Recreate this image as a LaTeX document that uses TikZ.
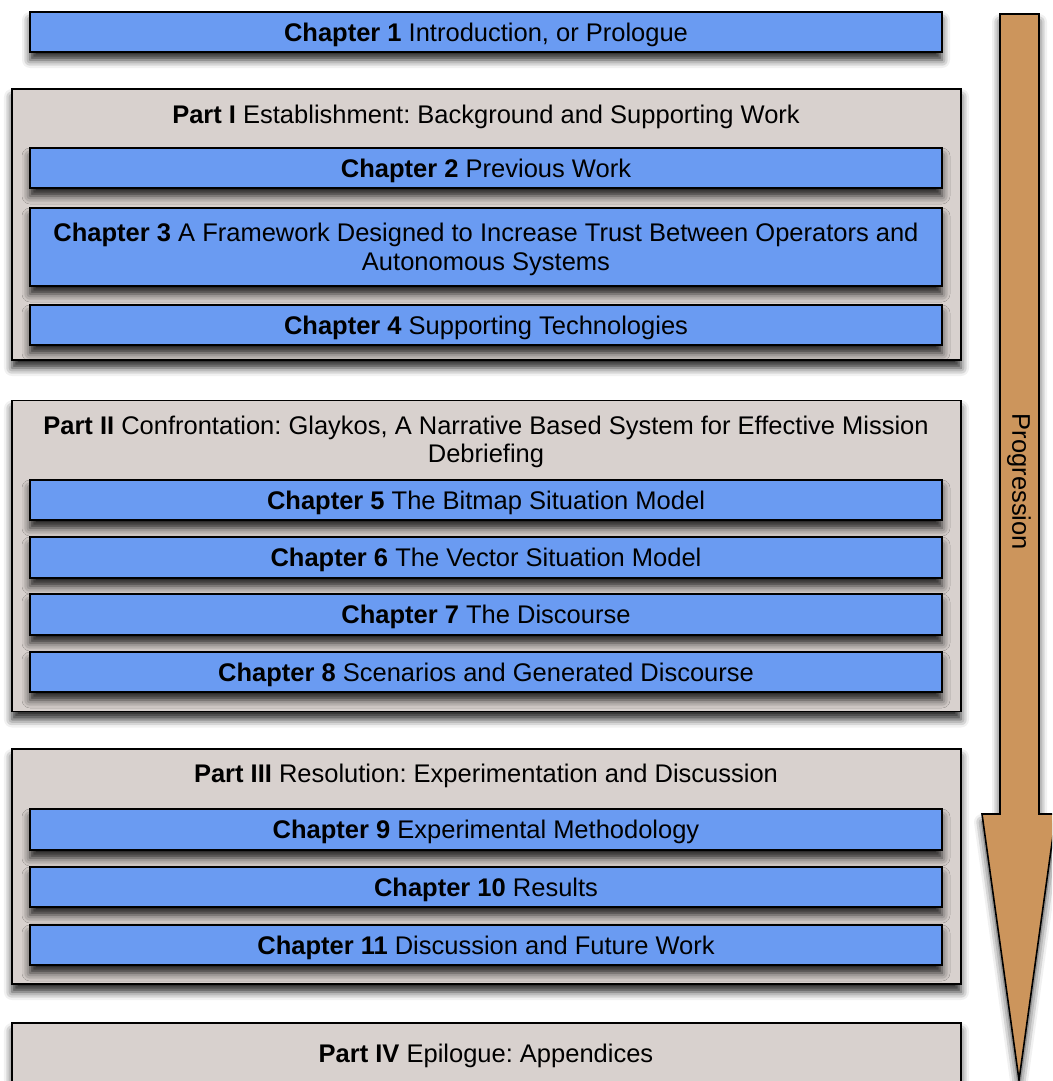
\documentclass[tikz,border=0pt]{standalone}
\usepackage{fontspec}
\setmainfont{Liberation Sans}
\usetikzlibrary{shadows.blur}
\frenchspacing
\definecolor{chapblue}{RGB}{106,155,242}
\definecolor{partgray}{RGB}{216,209,206}
\definecolor{progbrown}{RGB}{204,149,92}
\tikzset{
  dropshadow/.style={blur shadow={shadow xshift=0pt, shadow yshift=-8pt, shadow blur radius=8pt, shadow opacity=85}},
  chapbox/.style={draw=black, line width=1.6pt, fill=chapblue, dropshadow, minimum width=912pt, inner sep=0pt, text depth=0pt, align=center, font=\fontsize{25.5}{29}\selectfont},
  partbox/.style={draw=black, line width=1.6pt, fill=partgray, dropshadow, minimum width=949pt, inner sep=0pt},
  parttitle/.style={align=center, inner sep=0pt, text depth=0pt, font=\fontsize{25.5}{28}\selectfont},
}
\begin{document}
\begin{tikzpicture}[x=1pt,y=-1pt]
\useasboundingbox (0,0) rectangle (1052,1081);
\clip (0,0) rectangle (1052,1081);

% Progression arrow
\draw[line width=1.6pt, fill=progbrown, dropshadow, line join=miter]
  (1000,14) -- (1039,14) -- (1039,814) -- (1056,814) -- (1019,1080)
  -- (982,814) -- (1000,814) -- cycle;
\node[rotate=-90, inner sep=0pt, font=\fontsize{25.5}{28}\selectfont] (prog) at (1019,482) {Progression};

% Chapter 1
\node[chapbox, minimum height=40pt] (c1) at (486,32) {\textbf{Chapter 1} Introduction, or Prologue};

% Part I
\node[partbox, minimum height=271pt] (p1) at (486.5,224.5) {};
\node[parttitle] (p1t) at (486,114) {\textbf{Part I} Establishment: Background and Supporting Work};
\node[chapbox, minimum height=40pt] (c2) at (486,168) {\textbf{Chapter 2} Previous Work};
\node[chapbox, minimum height=78pt] (c3) at (486,247) {\textbf{Chapter 3} A Framework Designed to Increase Trust Between Operators and\\Autonomous Systems};
\node[chapbox, minimum height=40pt] (c4) at (486,325) {\textbf{Chapter 4} Supporting Technologies};

% Part II
\node[partbox, minimum height=311pt] (p2) at (486.5,556) {};
\node[parttitle] (p2t) at (486,439) {\textbf{Part II} Confrontation: Glaykos, A Narrative Based System for Effective Mission\\Debriefing};
\node[chapbox, minimum height=40pt] (c5) at (486,500) {\textbf{Chapter 5} The Bitmap Situation Model};
\node[chapbox, minimum height=41pt] (c6) at (486,557.5) {\textbf{Chapter 6} The Vector Situation Model};
\node[chapbox, minimum height=41pt] (c7) at (486,614.5) {\textbf{Chapter 7} The Discourse};
\node[chapbox, minimum height=40pt] (c8) at (486,672) {\textbf{Chapter 8} Scenarios and Generated Discourse};

% Part III
\node[partbox, minimum height=235pt] (p3) at (486.5,866.5) {};
\node[parttitle] (p3t) at (486,773) {\textbf{Part III} Resolution: Experimentation and Discussion};
\node[chapbox, minimum height=41pt] (c9) at (486,829.5) {\textbf{Chapter 9} Experimental Methodology};
\node[chapbox, minimum height=40pt] (c10) at (486,887) {\textbf{Chapter 10} Results};
\node[chapbox, minimum height=40pt] (c11) at (486,945) {\textbf{Chapter 11} Discussion and Future Work};

% Part IV
\node[partbox, minimum height=80pt] (p4) at (486.5,1063) {};
\node[parttitle] (p4t) at (486,1053) {\textbf{Part IV} Epilogue: Appendices};
\end{tikzpicture}
\end{document}
